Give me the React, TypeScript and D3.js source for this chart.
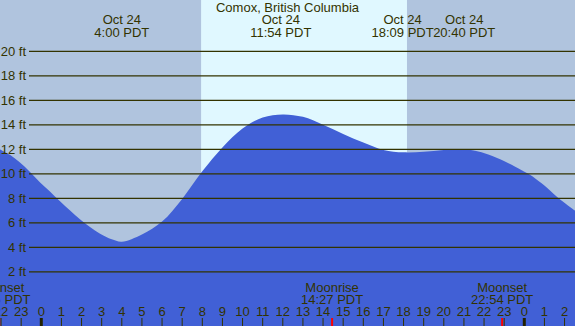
import React from "react";
import * as d3 from "d3";

// tide heights (ft), hours relative to Oct 24 00:00
const tideHours = [
  -2.06, -1.56, -1.06, -0.56, -0.06, 0.43, 0.93, 1.43, 1.92, 2.42, 2.92, 3.5, 4,
  5, 6, 7, 8, 9, 10, 11, 12, 13, 14, 15, 16, 17, 18, 19, 20, 21,
  21.55, 22.21, 23.04, 23.87, 24.28, 24.86, 25.69, 26.53,
];
const tideFeet = [
  12.0, 11.55, 10.92, 10.15, 9.3, 8.55, 7.75, 7.0, 6.28, 5.65, 5.1, 4.65, 4.46,
  5.05, 6.1, 7.95, 10.2, 12.15, 13.7, 14.6, 14.85, 14.65, 14.0, 13.25, 12.55, 11.95, 11.75, 11.8, 11.95, 12.0,
  11.88, 11.57, 11.0, 10.3, 9.92, 9.22, 8.03, 6.99,
];

const feetTicks = [2, 4, 6, 8, 10, 12, 14, 16, 18, 20];
const hourTicks = d3.range(-2, 27);

const sunrise = 7.94;
const sunset = 18.17;

// tide extremes shown at the top: time, label, small nudge to avoid overlap
const extremeTimes = [4.0, 11.9, 18.15, 20.667];
const extremeLabels = ["4:00 PDT", "11:54 PDT", "18:09 PDT", "20:40 PDT"];
const extremeNudge = [0, 0, -4, 7];

const moonTimes = [-2.083, 14.45, 22.9];
const moonNames = ["Moonset", "Moonrise", "Moonset"];
const moonLabels = ["21:55 PDT", "14:27 PDT", "22:54 PDT"];

const W = 575;
const H = 326;
const ink = "#333300";
const font = "'Liberation Sans', Arial, sans-serif";

export default function App() {
  const x = d3.scaleLinear().domain([-41.3 / 20.125, (W - 41.3) / 20.125]).range([0, W]);
  const y = d3.scaleLinear().domain([0, 20]).range([296.3, 51.3]);

  const pts = tideHours.map((h, i) => [h, tideFeet[i]] as [number, number]);
  const area = d3
    .area<[number, number]>()
    .x((d) => x(d[0]))
    .y0(H)
    .y1((d) => y(d[1]))
    .curve(d3.curveCatmullRom.alpha(0.5));

  return (
    <svg width={W} height={H} style={{ position: "absolute", left: 0, top: 0 }} fontFamily={font} fontSize={13}>
      <rect x={0} y={0} width={W} height={H} fill="#b0c4de" />
      <rect x={x(sunrise)} y={0} width={x(sunset) - x(sunrise)} height={H} fill="#e0f8ff" />
      <path d={area(pts) || ""} fill="#4160d6" />

      {feetTicks.map((f) => (
        <g key={f}>
          <line x1={29} x2={W} y1={y(f)} y2={y(f)} stroke={ink} strokeWidth={1.2} />
          <text x={26} y={y(f) + 4.5} textAnchor="end" fill={ink}>
            {f} ft
          </text>
        </g>
      ))}

      <text x={W / 2} y={11.5} textAnchor="middle" fill={ink}>
        Comox, British Columbia
      </text>
      {extremeTimes.map((t, i) => (
        <g key={i}>
          <text x={x(t) + extremeNudge[i]} y={24} textAnchor="middle" fill={ink}>
            Oct 24
          </text>
          <text x={x(t) + extremeNudge[i]} y={36.5} textAnchor="middle" fill={ink}>
            {extremeLabels[i]}
          </text>
        </g>
      ))}

      {moonTimes.map((t, i) => (
        <g key={i}>
          <text x={x(t)} y={292} textAnchor="middle" fill={ink}>
            {moonNames[i]}
          </text>
          <text x={x(t)} y={304} textAnchor="middle" fill={ink}>
            {moonLabels[i]}
          </text>
          <line x1={x(t)} x2={x(t)} y1={318} y2={H} stroke="#ff0000" strokeWidth={2} />
        </g>
      ))}

      {hourTicks.map((h) => {
        const hh = (h + 24) % 24;
        return (
          <g key={h}>
            <text x={x(h)} y={316} textAnchor="middle" fill={ink}>
              {hh}
            </text>
            <line
              x1={x(h)}
              x2={x(h)}
              y1={318}
              y2={H}
              stroke={hh === 0 ? "#222200" : ink}
              strokeWidth={hh === 0 ? 3 : 1}
            />
          </g>
        );
      })}
    </svg>
  );
}
